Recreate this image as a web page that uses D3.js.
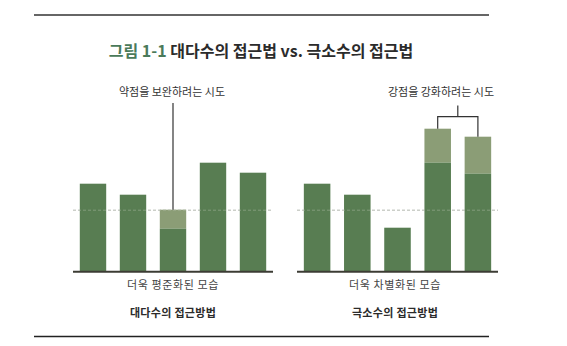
<!DOCTYPE html>
<html><head><meta charset="utf-8">
<script src="https://cdn.jsdelivr.net/npm/d3@7"></script>
<style>
body{margin:0;background:#fff;}
text{font-family:"Noto Sans CJK KR","Noto Sans",sans-serif;}
</style></head>
<body><svg id="c" width="567" height="346"></svg>
<script>
// Data
const categories = ["A","B","C","D","E"];
const majorityBase = [88, 77, 43, 109, 99];
const majorityBoost = [0, 0, 19, 0, 0];
const minorityBase = [88, 77, 44, 109, 98];
const minorityBoost = [0, 0, 0, 34, 37];
const averageLevel = 61.5;
const titleGreen = "그림 1-1";
const titleRest = " 대다수의 접근법 vs. 극소수의 접근법";
const panelCaptions = ["더욱 평준화된 모습", "더욱 차별화된 모습"];
const panelTitles = ["대다수의 접근방법", "극소수의 접근방법"];
const annotations = ["약점을 보완하려는 시도", "강점을 강화하려는 시도"];

const svg = d3.select("#c");
const dark = "#587d52", light = "#8b9d76", ink = "#2b2b2b";

// rules
svg.append("line").attr("x1",34).attr("x2",489).attr("y1",15).attr("y2",15).attr("stroke","#333").attr("stroke-width",1.6);
svg.append("line").attr("x1",34).attr("x2",489).attr("y1",336.5).attr("y2",336.5).attr("stroke","#222").attr("stroke-width",1.6);

// title
const t = svg.append("text").attr("x",261).attr("y",57).attr("text-anchor","middle")
  .attr("font-size",16).attr("font-weight",700).attr("fill",ink);
t.append("tspan").attr("fill","#4a7a5a").text(titleGreen);
t.append("tspan").text(titleRest);

const y = d3.scaleLinear().domain([0, 160]).range([271.7, 111.7]);

function panel(x0, x1, base, boost, caption, ptitle, cx) {
  const x = d3.scaleBand().domain(categories).range([x0, x1]).paddingInner(0.34).paddingOuter(0.17);
  const g = svg.append("g");
  // dashed average line (under)
  g.append("line").attr("x1",x0).attr("x2",x1).attr("y1",y(averageLevel)).attr("y2",y(averageLevel))
    .attr("stroke","#c4c4c4").attr("stroke-width",1).attr("stroke-dasharray","3,2");
  g.selectAll(".boost").data(categories).join("rect")
    .attr("x",d=>x(d)).attr("width",x.bandwidth())
    .attr("y",(d,i)=>y(base[i]+boost[i])).attr("height",(d,i)=>y(base[i])-y(base[i]+boost[i]))
    .attr("fill",light);
  g.selectAll(".base").data(categories).join("rect")
    .attr("x",d=>x(d)).attr("width",x.bandwidth())
    .attr("y",(d,i)=>y(base[i])).attr("height",(d,i)=>y(0)-y(base[i]))
    .attr("fill",dark);
  // faint dashes over bars
  g.append("line").attr("x1",x0).attr("x2",x1).attr("y1",y(averageLevel)).attr("y2",y(averageLevel))
    .attr("stroke","#b8c4b0").attr("stroke-opacity",0.45).attr("stroke-width",1).attr("stroke-dasharray","3,2");
  g.append("line").attr("x1",x0).attr("x2",x1).attr("y1",y(0)).attr("y2",y(0))
    .attr("stroke","#3c3c34").attr("stroke-width",2);
  g.append("text").attr("x",cx).attr("y",289).attr("text-anchor","middle").attr("font-size",11)
    .attr("letter-spacing",0.6).attr("fill","#444").text(caption);
  g.append("text").attr("x",cx).attr("y",317).attr("text-anchor","middle").attr("font-size",11)
    .attr("font-weight",700).attr("letter-spacing",0.3).attr("fill",ink).text(ptitle);
  return x;
}

const xl = panel(73, 273, majorityBase, majorityBoost, panelCaptions[0], panelTitles[0], 173);
const xr = panel(297, 498, minorityBase, minorityBoost, panelCaptions[1], panelTitles[1], 395);

// left annotation
const li = majorityBoost.findIndex(v=>v>0);
const lx = xl(categories[li]) + xl.bandwidth()/2;
svg.append("line").attr("x1",lx).attr("x2",lx).attr("y1",103).attr("y2",y(majorityBase[li]+majorityBoost[li]))
  .attr("stroke","#333").attr("stroke-width",1.2);
svg.append("text").attr("x",lx-1).attr("y",95.5).attr("text-anchor","middle").attr("font-size",11)
  .attr("fill","#333").text(annotations[0]);

// right bracket
const ri = minorityBoost.map((v,i)=>v>0?i:-1).filter(i=>i>=0);
const bx = ri.map(i=>xr(categories[i]) + xr.bandwidth()/2);
const by = 116.7;
const path = d3.path();
path.moveTo(bx[0], y(minorityBase[ri[0]]+minorityBoost[ri[0]]));
path.lineTo(bx[0], by);
path.lineTo(bx[1], by);
path.lineTo(bx[1], y(minorityBase[ri[1]]+minorityBoost[ri[1]]));
const mid = (bx[0]+bx[1])/2;
path.moveTo(mid, by);
path.lineTo(mid, 105.5);
svg.append("path").attr("d",path.toString()).attr("fill","none").attr("stroke","#333").attr("stroke-width",1.2);
svg.append("text").attr("x",441).attr("y",95.5).attr("text-anchor","middle").attr("font-size",11)
  .attr("fill","#333").text(annotations[1]);
</script></body></html>
